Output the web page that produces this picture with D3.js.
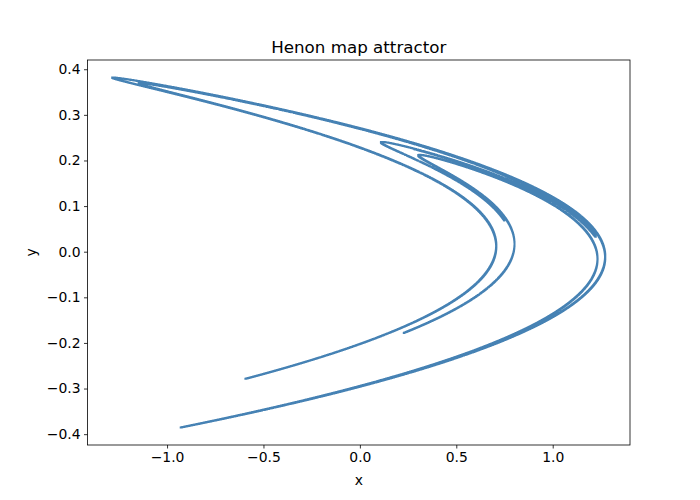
<!DOCTYPE html>
<html><head><meta charset="utf-8">
<script src="https://cdn.jsdelivr.net/npm/d3@7"></script>
<style>body{margin:0;background:#fff}text{font-family:"DejaVu Sans",sans-serif}</style>
</head><body><svg id="c" width="700" height="500"></svg>
<script>
// Henon map parameters (a, b), starting point and number of iterations
const params = [1.4, 0.3];
const start = [0.0, 0.0];
const counts = [50000];
const xTicks = [-1.0, -0.5, 0.0, 0.5, 1.0];
const yTicks = [-0.4, -0.3, -0.2, -0.1, 0.0, 0.1, 0.2, 0.3, 0.4];

const pts = [];
let [x, y] = start;
for (let i = 0; i < counts[0] + 100; i++) {
  const nx = 1 - params[0] * x * x + y, ny = params[1] * x;
  x = nx; y = ny;
  if (i >= 100) pts.push([x, y]);
}
const svg = d3.select("#c");
const L = 87.5, R = 630, T = 60, B = 445;
const xe = d3.extent(pts, d => d[0]), ye = d3.extent(pts, d => d[1]);
const xm = (xe[1] - xe[0]) * 0.05, ym = (ye[1] - ye[0]) * 0.05;
const xs = d3.scaleLinear().domain([xe[0] - xm, xe[1] + xm]).range([L, R]);
const ys = d3.scaleLinear().domain([ye[0] - ym, ye[1] + ym]).range([B, T]);
const s = 2.0;
const dstr = pts.map(d => `M${(xs(d[0]) - s / 2).toFixed(1)},${(ys(d[1]) - s / 2).toFixed(1)}h${s}v${s}h-${s}z`).join("");
svg.append("path").attr("d", dstr).attr("fill", "#4682b4");
const fmt = d3.format(".1f");
const ax = svg.append("g").attr("transform", `translate(0,${B})`)
  .call(d3.axisBottom(xs).tickValues(xTicks).tickFormat(d => fmt(d).replace("-", "−")).tickSize(3.5).tickPadding(3.5));
const ay = svg.append("g").attr("transform", `translate(${L},0)`)
  .call(d3.axisLeft(ys).tickValues(yTicks).tickFormat(d => fmt(d).replace("-", "−")).tickSize(3.5).tickPadding(3.5));
[ax, ay].forEach(g => { g.select(".domain").remove(); g.selectAll("text").attr("font-size", 13.9).attr("fill", "#000").style("font-family", "DejaVu Sans"); g.selectAll("line").attr("stroke", "#000").attr("stroke-width", 0.8); });
svg.append("rect").attr("x", L).attr("y", T).attr("width", R - L).attr("height", B - T).attr("fill", "none").attr("stroke", "#000").attr("stroke-width", 0.8);
svg.append("text").attr("x", (L + R) / 2).attr("y", T - 7).attr("text-anchor", "middle").attr("font-size", 16.7).text("Henon map attractor");
svg.append("text").attr("x", (L + R) / 2).attr("y", 485).attr("text-anchor", "middle").attr("font-size", 13.9).text("x");
svg.append("text").attr("transform", `translate(36,${(T + B) / 2}) rotate(-90)`).attr("text-anchor", "middle").attr("font-size", 13.9).text("y");
</script></body></html>
